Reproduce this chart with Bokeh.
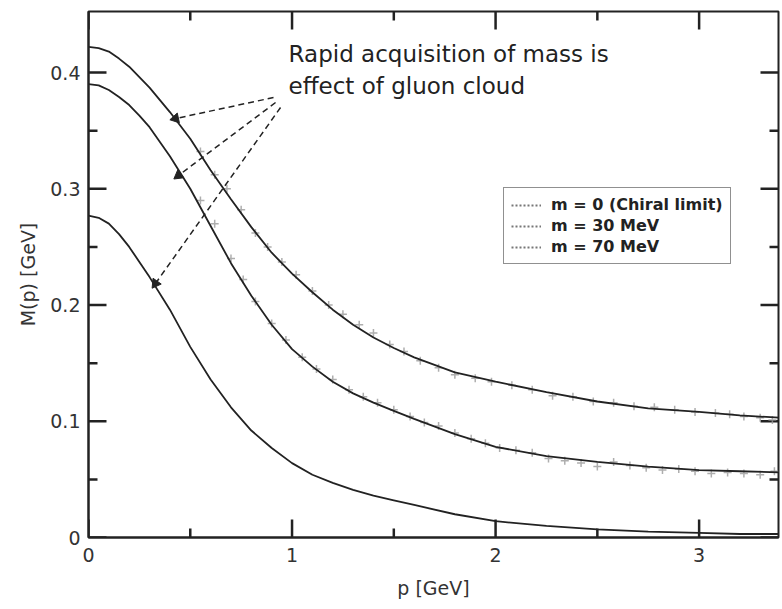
import math
from bokeh.plotting import figure
from bokeh.models import FixedTicker, Label, Legend, LegendItem, Range1d
from bokeh.embed import file_html
from bokeh.resources import INLINE

# ---- data ----
p_grid = [0, 0.05, 0.1, 0.15, 0.2, 0.25, 0.3, 0.4, 0.5, 0.6, 0.7, 0.8, 0.9, 1.0,
          1.1, 1.2, 1.3, 1.4, 1.5, 1.6, 1.8, 2.0, 2.25, 2.5, 2.75, 3.0, 3.2, 3.4]
m_chiral = [0.277, 0.275, 0.270, 0.261, 0.250, 0.237, 0.224, 0.196, 0.164, 0.136,
            0.112, 0.092, 0.077, 0.064, 0.054, 0.047, 0.041, 0.036, 0.032, 0.028,
            0.020, 0.014, 0.010, 0.007, 0.005, 0.004, 0.003, 0.003]
m_30 = [0.390, 0.389, 0.385, 0.379, 0.372, 0.363, 0.353, 0.328, 0.300, 0.268,
        0.236, 0.208, 0.183, 0.162, 0.147, 0.134, 0.124, 0.116, 0.109, 0.102,
        0.089, 0.078, 0.070, 0.065, 0.061, 0.058, 0.057, 0.056]
m_70 = [0.422, 0.421, 0.418, 0.412, 0.405, 0.396, 0.387, 0.366, 0.343, 0.316,
        0.291, 0.267, 0.245, 0.227, 0.211, 0.196, 0.183, 0.172, 0.163, 0.155,
        0.142, 0.134, 0.125, 0.117, 0.111, 0.108, 0.105, 0.103]

# lattice points (grey crosses)
lat70_p = [0.55, 0.62, 0.68, 0.75, 0.82, 0.88, 0.95, 1.02, 1.10, 1.18, 1.25, 1.33,
           1.40, 1.48, 1.55, 1.63, 1.72, 1.80, 1.90, 1.98, 2.08, 2.18, 2.28, 2.38,
           2.48, 2.58, 2.68, 2.78, 2.88, 2.98, 3.08, 3.15, 3.22, 3.30, 3.36]
lat70_m = [0.332, 0.312, 0.300, 0.282, 0.262, 0.250, 0.237, 0.226, 0.212, 0.200,
           0.192, 0.183, 0.176, 0.166, 0.160, 0.152, 0.146, 0.140, 0.137, 0.134,
           0.131, 0.127, 0.122, 0.121, 0.117, 0.116, 0.113, 0.112, 0.110, 0.108,
           0.107, 0.106, 0.104, 0.103, 0.101]
lat30_p = [0.55, 0.62, 0.70, 0.76, 0.82, 0.90, 0.97, 1.05, 1.12, 1.20, 1.28, 1.35,
           1.42, 1.50, 1.58, 1.65, 1.72, 1.80, 1.88, 1.95, 2.02, 2.10, 2.18, 2.26,
           2.34, 2.42, 2.50, 2.58, 2.66, 2.74, 2.82, 2.90, 2.98, 3.06, 3.14, 3.22,
           3.30, 3.37]
lat30_m = [0.290, 0.270, 0.240, 0.222, 0.203, 0.184, 0.170, 0.155, 0.145, 0.136,
           0.127, 0.121, 0.116, 0.110, 0.104, 0.099, 0.096, 0.090, 0.085, 0.081,
           0.077, 0.075, 0.073, 0.068, 0.066, 0.064, 0.061, 0.065, 0.062, 0.060,
           0.058, 0.059, 0.057, 0.055, 0.056, 0.055, 0.054, 0.057]

X_RANGE = (0, 3.39)
Y_RANGE = (0, 0.4525)
x_ticks = [0, 1, 2, 3]
x_minor = [0.5, 1.5, 2.5]
y_ticks = [0, 0.1, 0.2, 0.3, 0.4]
y_minor = [0.05, 0.15, 0.25, 0.35]
y_tick_labels = ["0", "0.1", "0.2", "0.3", "0.4"]
x_tick_labels = ["0", "1", "2", "3"]

legend_labels = ["m = 0 (Chiral limit)", "m = 30 MeV", "m = 70 MeV"]

note_lines = ["Rapid acquisition of mass is", "effect of gluon cloud"]
arrow_tail_x = [0.909, 0.919, 0.9435]
arrow_tail_y = [0.3785, 0.3742, 0.3699]
arrow_head_x = [0.4275, 0.442, 0.329]
arrow_head_y = [0.3604, 0.3114, 0.2185]

FONT = "DejaVu Sans"
INK = "#222222"
W, H = 782, 609
B_LEFT, B_RIGHT, B_TOP, B_BOTTOM = 88, 4, 11, 72
FRAME_W = W - B_LEFT - B_RIGHT
FRAME_H = H - B_TOP - B_BOTTOM
MAJOR_PX, MINOR_PX = 18, 9

p = figure(width=W, height=H, x_range=Range1d(*X_RANGE), y_range=Range1d(*Y_RANGE),
           output_backend="svg", toolbar_location=None,
           min_border_left=B_LEFT, min_border_right=B_RIGHT,
           min_border_top=B_TOP, min_border_bottom=B_BOTTOM)
p.grid.visible = False
p.outline_line_color = INK
p.outline_line_width = 2


def style_axis(ax, ticks, labels):
    ax.ticker = FixedTicker(ticks=list(ticks))
    ax.major_tick_in = 0
    ax.major_tick_out = 0
    ax.minor_tick_in = 0
    ax.minor_tick_out = 0
    ax.axis_line_color = INK
    ax.axis_line_width = 2
    ax.major_label_text_font = FONT
    ax.major_label_text_color = "#333333"
    ax.major_label_text_font_size = "19px"
    ax.major_label_overrides = {t: l for t, l in zip(ticks, labels)}
    ax.axis_label_text_font = FONT
    ax.axis_label_text_font_style = "normal"
    ax.axis_label_text_font_size = "19px"
    ax.axis_label_text_color = "#333333"


xa = p.xaxis[0]
ya = p.yaxis[0]
style_axis(xa, x_ticks, x_tick_labels)
style_axis(ya, y_ticks, y_tick_labels)
xa.axis_label = "p [GeV]"
ya.axis_label = "M(p) [GeV]"
xa.major_label_standoff = 10
ya.major_label_standoff = 8
xa.axis_label_standoff = 12
ya.axis_label_standoff = 8

# inward ticks on all four sides: one broken polyline (NaN gaps) built from the tick lists
dx_per_px = (X_RANGE[1] - X_RANGE[0]) / FRAME_W
dy_per_px = (Y_RANGE[1] - Y_RANGE[0]) / FRAME_H
nan = float("nan")
tx, ty = [], []
for ticks, ln in ((x_ticks, MAJOR_PX), (x_minor, MINOR_PX)):
    for t in ticks:
        tx += [t, t, nan, t, t, nan]
        ty += [Y_RANGE[0], Y_RANGE[0] + ln * dy_per_px, nan,
               Y_RANGE[1], Y_RANGE[1] - ln * dy_per_px, nan]
for ticks, ln in ((y_ticks, MAJOR_PX), (y_minor, MINOR_PX)):
    for t in ticks:
        tx += [X_RANGE[0], X_RANGE[0] + ln * dx_per_px, nan,
               X_RANGE[1], X_RANGE[1] - ln * dx_per_px, nan]
        ty += [t, t, nan, t, t, nan]
p.line(tx, ty, line_color=INK, line_width=2.5)

# lattice data
p.scatter(lat70_p, lat70_m, marker="cross", size=8, line_color="#9a9a9a",
          line_width=1.5, line_alpha=0.8)
p.scatter(lat30_p, lat30_m, marker="cross", size=8, line_color="#9a9a9a",
          line_width=1.5, line_alpha=0.8)

# curves
for ys in (m_chiral, m_30, m_70):
    p.line(p_grid, ys, line_color=INK, line_width=1.8)

# legend (dotted samples as in the original); invisible NaN lines carry the style
dummies = []
for _ in legend_labels:
    dummies.append(p.line([nan], [nan], line_color="#777777", line_width=2, line_dash="2 2"))
legend = Legend(items=[LegendItem(label=l, renderers=[r]) for l, r in zip(legend_labels, dummies)],
                location=(415, 273))
legend.border_line_color = INK
legend.border_line_width = 1.5
legend.label_text_font = FONT
legend.label_text_font_style = "bold"
legend.label_text_font_size = "16px"
legend.label_text_color = "#222222"
legend.glyph_width = 30
legend.glyph_height = 14
legend.label_height = 18
legend.label_standoff = 10
legend.spacing = 2
legend.padding = 7
legend.margin = 0
p.add_layout(legend)

# annotation text
for txt, yv in zip(note_lines, (0.4163, 0.3888)):
    p.add_layout(Label(x=0.983, y=yv, text=txt, text_font=FONT,
                       text_font_size="23px", text_baseline="middle", text_color="#222222"))

# dashed arrows: dashed shafts plus triangle heads pointing along each shaft
p.segment(x0=arrow_tail_x, y0=arrow_tail_y, x1=arrow_head_x, y1=arrow_head_y,
          line_color=INK, line_width=1.5, line_dash="6 4")
head_angles = []
for x0, y0, x1, y1 in zip(arrow_tail_x, arrow_tail_y, arrow_head_x, arrow_head_y):
    theta = math.atan2((y1 - y0) / dy_per_px, (x1 - x0) / dx_per_px)
    head_angles.append(theta - math.pi / 2)
p.scatter(arrow_head_x, arrow_head_y, marker="triangle", size=10, angle=head_angles,
          fill_color=INK, line_color=INK)

open("out.html", "w").write(file_html(p, INLINE))
